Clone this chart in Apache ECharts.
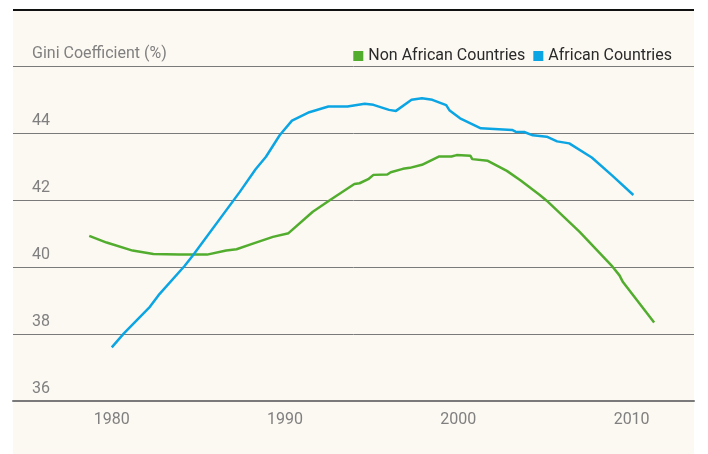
<!DOCTYPE html>
<html>
<head>
<meta charset="utf-8">
<script src="https://cdn.jsdelivr.net/npm/echarts@6/dist/echarts.min.js"></script>
<style>
  html, body { margin: 0; padding: 0; background: #ffffff; }
  #wrap { position: relative; width: 708px; height: 454px; }
  #panel { position: absolute; left: 13px; top: 9px; width: 681px; height: 445px;
           background: #fcf8f2; border-top: 2px solid #111; box-sizing: border-box; }
  #chart { position: absolute; left: 0; top: 0; width: 708px; height: 454px; }
</style>
</head>
<body>
<div id="wrap">
  <div id="panel"></div>
  <div id="chart"></div>
</div>
<script>
// Gini coefficient
var nonAfricaYears = [1978.7, 1979.7, 1981.2, 1982.4, 1983.9, 1985.5, 1986.6, 1987.2, 1988.1, 1989.3,
  1990.2, 1991.6, 1992.6, 1994.0, 1994.3, 1994.8, 1995.1, 1995.9, 1996.1, 1996.8, 1997.2, 1997.9,
  1998.9, 1999.6, 1999.9, 2000.7, 2000.8, 2001.7, 2002.8, 2003.6, 2004.7, 2005.1, 2007.0, 2008.9,
  2009.3, 2009.5, 2011.3];
var nonAfricaGini = [40.93, 40.73, 40.49, 40.39, 40.37, 40.37, 40.49, 40.53, 40.69, 40.90,
  41.01, 41.65, 42.00, 42.48, 42.50, 42.62, 42.75, 42.76, 42.83, 42.93, 42.96, 43.05,
  43.30, 43.30, 43.34, 43.32, 43.22, 43.17, 42.87, 42.58, 42.15, 41.98, 41.05, 40.01,
  39.75, 39.55, 38.34];

var africaYears = [1980.0, 1980.7, 1982.2, 1982.7, 1984.2, 1984.7, 1987.4, 1988.3, 1988.9, 1989.7,
  1990.4, 1991.4, 1992.5, 1993.6, 1994.6, 1995.1, 1996.0, 1996.4, 1997.3, 1997.9, 1998.5, 1999.3,
  1999.5, 2000.1, 2001.3, 2003.1, 2003.3, 2003.8, 2004.3, 2005.1, 2005.7, 2006.4, 2007.7, 2008.9,
  2010.1];
var africaGini = [37.60, 38.02, 38.81, 39.16, 40.03, 40.36, 42.25, 42.92, 43.29, 43.94,
  44.37, 44.62, 44.79, 44.79, 44.87, 44.84, 44.69, 44.66, 44.99, 45.04, 44.99, 44.83,
  44.67, 44.44, 44.14, 44.09, 44.04, 44.03, 43.93, 43.89, 43.75, 43.69, 43.27, 42.72,
  42.15];

var yearTicks = [1980, 1990, 2000, 2010];
var seriesNames = ['Non African Countries', 'African Countries'];
var seriesColors = ['#52ad2f', '#0ca5e3'];

function pairs(xs, ys) {
  var out = [];
  for (var i = 0; i < xs.length; i++) out.push([xs[i], ys[i]]);
  return out;
}

var font = 'Roboto, sans-serif';
var chart = echarts.init(document.getElementById('chart'), null, { renderer: 'canvas' });

chart.setOption({
  backgroundColor: 'transparent',
  animation: false,
  color: seriesColors,
  legend: {
    right: 31,
    top: 43,
    icon: 'rect',
    itemWidth: 10,
    itemHeight: 10,
    itemGap: 8,
    textStyle: { fontFamily: font, fontSize: 16, color: '#2a2a2a' },
    data: seriesNames
  },
  grid: { left: 13, right: 14, top: 66, bottom: 53 },
  xAxis: {
    type: 'value',
    min: 1974.3,
    max: 2013.6,
    axisLine: { lineStyle: { color: '#7a7a7a', width: 2 } },
    axisTick: { show: false },
    splitLine: { show: false },
    axisLabel: {
      customValues: yearTicks,
      margin: 11,
      fontFamily: font,
      fontSize: 16,
      color: '#808080',
      formatter: function (v) { return String(v); }
    }
  },
  yAxis: {
    type: 'value',
    min: 36,
    max: 46,
    interval: 2,
    axisLine: { show: false },
    axisTick: { show: false },
    splitLine: { lineStyle: { color: '#7a7a7a', width: 1 } },
    axisLabel: {
      inside: true,
      margin: 19,
      verticalAlign: 'bottom',
      padding: [0, 0, 4, 0],
      fontFamily: font,
      fontSize: 16,
      color: '#808080',
      formatter: function (v) {
        return v === 46 ? 'Gini Coefficient (%)' : String(v);
      }
    }
  },
  series: [{
    name: seriesNames[0],
    type: 'line',
    symbol: 'none',
    lineStyle: { width: 2.5 },
    data: pairs(nonAfricaYears, nonAfricaGini)
  }, {
    name: seriesNames[1],
    type: 'line',
    symbol: 'none',
    lineStyle: { width: 2.5 },
    data: pairs(africaYears, africaGini)
  }]
});
</script>
</body>
</html>
